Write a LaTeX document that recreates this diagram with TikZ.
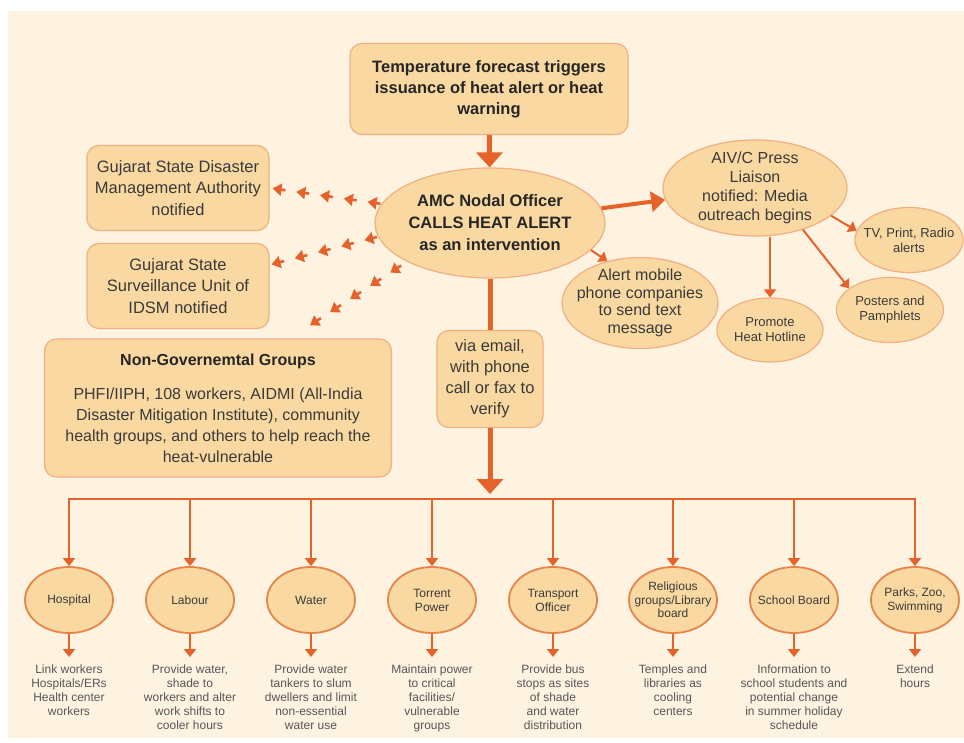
\documentclass[tikz,border=0pt]{standalone}
\usepackage{fontspec}
\setmainfont{Liberation Sans}
\usetikzlibrary{shapes.geometric,arrows.meta,calc}

\definecolor{panel}{HTML}{FEF2E1}
\definecolor{boxfill}{HTML}{F9D9A1}
\definecolor{boxline}{HTML}{F2AE80}
\definecolor{ovalline}{HTML}{E8844A}
\definecolor{arrowc}{HTML}{E5622A}
\definecolor{textc}{HTML}{3A3A3A}

\begin{document}
\begin{tikzpicture}[x=1pt, y=-1pt,
  box/.style = {rectangle, rounded corners=12pt, draw=boxline, line width=1.2pt, fill=boxfill, align=center, text=textc, inner sep=0pt},
  oval/.style = {ellipse, draw=boxline, line width=1.2pt, fill=boxfill, align=center, text=textc, inner xsep=-8pt, inner ysep=-2pt},
  unit/.style = {ellipse, draw=ovalline, line width=1.8pt, fill=boxfill, align=center, text=textc, inner xsep=-8pt, inner ysep=0pt, minimum width=88pt, minimum height=66pt, font=\fontsize{12}{14}\selectfont},
  task/.style = {align=center, text=textc!85, inner sep=0pt, anchor=north, font=\fontsize{12}{14}\selectfont},
  big/.style = {draw=arrowc, line width=5pt, -{Triangle[width=26pt,length=15pt]}},
  feed/.style = {draw=arrowc, line width=2pt, -{Triangle[width=12pt,length=8pt]}},
  lead/.style = {feed, shorten >=8pt},
  dart/.style = {draw=arrowc, line width=2.6pt, -{Triangle[width=12pt,length=9pt]}}]

\useasboundingbox (0,0) rectangle (964,742);
\fill[panel] (8,11) rectangle (964,738);

\node[box, minimum width=278pt, minimum height=91pt, font=\bfseries\fontsize{16.5}{21}\selectfont, text=black!85] (forecast) at (489,89) {Temperature forecast triggers\\issuance of heat alert or heat\\warning};

\node[oval, minimum width=230pt, minimum height=110pt, font=\bfseries\fontsize{16.5}{22}\selectfont, text=black!85] (nodal) at (490,223) {AMC Nodal Officer\\CALLS HEAT ALERT\\as an intervention};

\node[box, minimum width=182pt, minimum height=85pt, font=\fontsize{16.5}{21.5}\selectfont] (gsdma) at (178,188) {Gujarat State Disaster\\Management Authority\\notified};
\node[box, minimum width=182pt, minimum height=85pt, font=\fontsize{16.5}{21.5}\selectfont] (gssu) at (178,286) {Gujarat State\\Surveillance Unit of\\IDSM notified};

\node[box, minimum width=347pt, minimum height=138pt, font=\fontsize{16}{21}\selectfont] (ngo) at (218,408) {\textbf{\color{black!85}Non-Governemtal Groups}\\[13pt]PHFI/IIPH, 108 workers, AIDMI (All-India\\Disaster Mitigation Institute), community\\health groups, and others to help reach the\\heat-vulnerable};

\node[box, minimum width=106pt, minimum height=97pt, font=\fontsize{16.5}{21}\selectfont] (verify) at (490,379) {via email,\\with phone\\call or fax to\\verify};

\node[oval, minimum width=184pt, minimum height=96pt, font=\fontsize{16}{19}\selectfont] (aivc) at (755,188) {AIV/C Press\\Liaison\\notified: Media\\outreach begins};
\node[oval, minimum width=155pt, minimum height=91pt, font=\fontsize{16}{17.5}\selectfont] (mobile) at (640,303) {Alert mobile\\phone companies\\to send text\\message};
\node[oval, minimum width=108pt, minimum height=65pt, font=\fontsize{13}{15}\selectfont] (media) at (909,240) {TV, Print, Radio\\alerts};
\node[oval, minimum width=107pt, minimum height=65pt, font=\fontsize{13}{15}\selectfont] (posters) at (890,310) {Posters and\\Pamphlets};
\node[oval, minimum width=106pt, minimum height=64pt, font=\fontsize{13}{15}\selectfont] (hotline) at (770,330) {Promote\\Heat Hotline};

\node[unit] (hospital) at (69,600) {Hospital};
\node[unit] (labour) at (190,600) {Labour};
\node[unit] (water) at (311,600) {Water};
\node[unit] (power) at (432,600) {Torrent\\Power};
\node[unit] (transport) at (553,600) {Transport\\Officer};
\node[unit, font=\fontsize{12}{13.5}\selectfont] (religion) at (673,600) {Religious\\groups/Library\\board};
\node[unit] (school) at (794,600) {School Board};
\node[unit] (parks) at (915,600) {Parks, Zoo,\\Swimming};

\node[task] (hospitalt) at (69,665) {Link workers\\Hospitals/ERs\\Health center\\workers};
\node[task] (labourt) at (190,665) {Provide water,\\shade to\\workers and alter\\work shifts to\\cooler hours};
\node[task] (watert) at (311,665) {Provide water\\tankers to slum\\dwellers and limit\\non-essential\\water use};
\node[task] (powert) at (432,665) {Maintain power\\to critical\\facilities/\\vulnerable\\groups};
\node[task] (transportt) at (553,665) {Provide bus\\stops as sites\\of shade\\and water\\distribution};
\node[task] (religiont) at (673,665) {Temples and\\libraries as\\cooling\\centers};
\node[task] (schoolt) at (794,665) {Information to\\school students and\\potential change\\in summer holiday\\schedule};
\node[task] (parkst) at (915,665) {Extend\\hours};

\coordinate (busl) at (69,499);
\coordinate (busr) at (915,499);
\coordinate (drop) at (490,494);
\coordinate (ngoin) at (312,324);

\draw[big] (forecast) -- (nodal);
\draw[draw=arrowc, line width=5pt] (nodal) -- (verify);
\draw[big] (verify) -- (drop);
\draw[draw=arrowc, line width=2pt, line cap=rect] (busl) -- (busr);

\draw[draw=arrowc, line width=4pt, -{Triangle[width=20pt,length=14pt]}] (nodal) -- (aivc);
\draw[feed] (nodal.-15) -- (mobile.128);
\draw[feed] (aivc.-20) -- (media.170);
\draw[feed] (aivc.-41) -- (posters.152);
\draw[feed] (aivc.south -| hotline.north) -- (hotline.north);

\foreach \a/\b in {1pt/14pt, 25pt/38pt, 49pt/62pt, 73pt/86pt, 97pt/110pt}
  \draw[dart] ($(nodal.170)!\a!(gsdma.east)$) -- ($(nodal.170)!\b!(gsdma.east)$);
\foreach \a/\b in {1pt/14pt, 25pt/38pt, 49pt/62pt, 73pt/86pt, 97pt/110pt}
  \draw[dart] ($(nodal.187)!\a!(gssu.13)$) -- ($(nodal.187)!\b!(gssu.13)$);
\foreach \a/\b in {7pt/20pt, 31pt/44pt, 55pt/68pt, 79pt/92pt, 103pt/116pt}
  \draw[dart] ($(nodal.205)!\a!(ngoin)$) -- ($(nodal.205)!\b!(ngoin)$);

\draw[feed] (hospital |- busl) -- (hospital);
\draw[feed] (labour |- busl) -- (labour);
\draw[feed] (water |- busl) -- (water);
\draw[feed] (power |- busl) -- (power);
\draw[feed] (transport |- busl) -- (transport);
\draw[feed] (religion |- busl) -- (religion);
\draw[feed] (school |- busl) -- (school);
\draw[feed] (parks |- busl) -- (parks);

\draw[lead] (hospital) -- (hospitalt);
\draw[lead] (labour) -- (labourt);
\draw[lead] (water) -- (watert);
\draw[lead] (power) -- (powert);
\draw[lead] (transport) -- (transportt);
\draw[lead] (religion) -- (religiont);
\draw[lead] (school) -- (schoolt);
\draw[lead] (parks) -- (parkst);

\end{tikzpicture}
\end{document}
